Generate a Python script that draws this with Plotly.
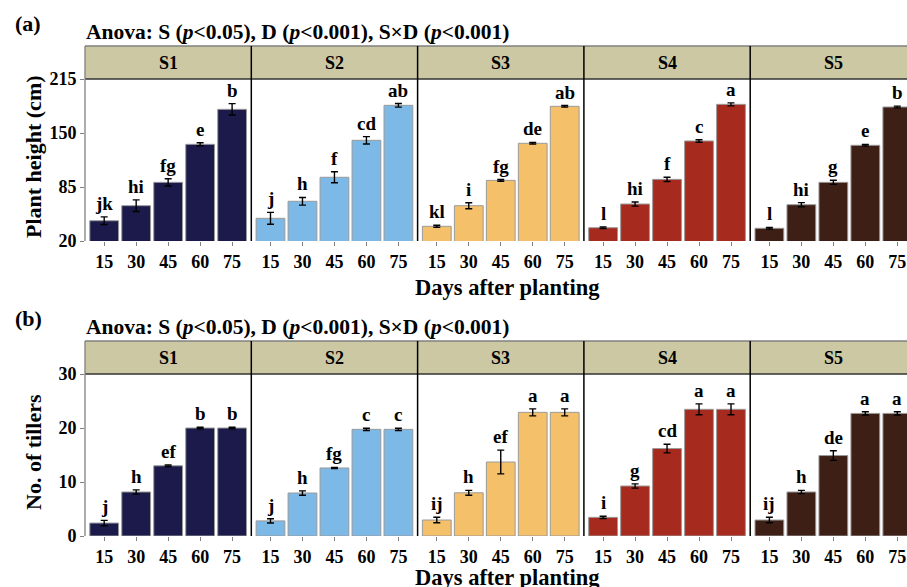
import plotly.graph_objects as go

# ---------------- data ----------------
days = ["15", "30", "45", "60", "75"]
treatments = ["S1", "S2", "S3", "S4", "S5"]
colors = ["#1B1A4A", "#7DB9E7", "#F4C06A", "#A72A1F", "#3D1F16"]

# Plant height (cm): means, standard errors, letters
height_S1 = [44.4, 62.5, 90.6, 136.4, 178.5]
height_S2 = [47.3, 67.8, 96.7, 141.2, 183.3]
height_S3 = [37.7, 62.5, 93.0, 137.6, 182.1]
height_S4 = [36.0, 64.5, 94.2, 140.4, 184.5]
height_S5 = [35.3, 63.7, 90.6, 135.2, 181.3]
height_se_S1 = [4.6, 7.0, 4.4, 1.8, 6.8]
height_se_S2 = [7.2, 4.6, 6.6, 4.4, 2.2]
height_se_S3 = [1.2, 3.6, 1.0, 1.0, 1.0]
height_se_S4 = [1.0, 2.5, 2.5, 1.5, 1.8]
height_se_S5 = [1.0, 2.5, 2.5, 1.0, 1.0]
height_lab_S1 = ["jk", "hi", "fg", "e", "b"]
height_lab_S2 = ["j", "h", "f", "cd", "ab"]
height_lab_S3 = ["kl", "i", "fg", "de", "ab"]
height_lab_S4 = ["l", "hi", "f", "c", "a"]
height_lab_S5 = ["l", "hi", "g", "e", "b"]

# Number of tillers
till_S1 = [2.4, 8.15, 13.0, 20.0, 20.0]
till_S2 = [2.8, 7.96, 12.6, 19.75, 19.75]
till_S3 = [2.96, 8.0, 13.7, 22.9, 22.9]
till_S4 = [3.45, 9.26, 16.2, 23.46, 23.46]
till_S5 = [2.96, 8.15, 14.9, 22.7, 22.7]
till_se_S1 = [0.5, 0.4, 0.15, 0.15, 0.15]
till_se_S2 = [0.4, 0.4, 0.1, 0.2, 0.2]
till_se_S3 = [0.5, 0.45, 2.2, 0.65, 0.65]
till_se_S4 = [0.2, 0.4, 0.8, 1.0, 1.0]
till_se_S5 = [0.5, 0.3, 0.9, 0.3, 0.3]
till_lab_S1 = ["j", "h", "ef", "b", "b"]
till_lab_S2 = ["j", "h", "fg", "c", "c"]
till_lab_S3 = ["ij", "h", "ef", "a", "a"]
till_lab_S4 = ["i", "g", "cd", "a", "a"]
till_lab_S5 = ["ij", "h", "de", "a", "a"]

height_ticks = [20, 85, 150, 215]
till_ticks = [0, 10, 20, 30]

rows = [
    dict(means=[height_S1, height_S2, height_S3, height_S4, height_S5],
         ses=[height_se_S1, height_se_S2, height_se_S3, height_se_S4, height_se_S5],
         labs=[height_lab_S1, height_lab_S2, height_lab_S3, height_lab_S4, height_lab_S5],
         yr=[20, 215], ticks=height_ticks, ytitle="Plant height (cm)",
         top=79, bottom=241, tag="(a)", xt=287),
    dict(means=[till_S1, till_S2, till_S3, till_S4, till_S5],
         ses=[till_se_S1, till_se_S2, till_se_S3, till_se_S4, till_se_S5],
         labs=[till_lab_S1, till_lab_S2, till_lab_S3, till_lab_S4, till_lab_S5],
         yr=[0, 30], ticks=till_ticks, ytitle="No. of tillers",
         top=374, bottom=536, tag="(b)", xt=577),
]

# ---------------- layout geometry (pixels) ----------------
W, H = 907, 587
X0 = 85.0
PW = 166.3
UNIT = PW / 5.2
STRIP = 33
FONT = "Liberation Serif"
GRAY = "#808080"

def px(x):
    return x / W

def py(y):
    return 1 - y / H

fig = go.Figure()
layout = dict(
    width=W, height=H, margin=dict(l=0, r=0, t=0, b=0, autoexpand=False),
    paper_bgcolor="white", plot_bgcolor="white", showlegend=False,
    font=dict(family=FONT, color="black"),
)
annotations = []
shapes = []

for r, row in enumerate(rows):
    for c in range(5):
        k = r * 5 + c + 1
        xa = "xaxis" if k == 1 else f"xaxis{k}"
        ya = "yaxis" if k == 1 else f"yaxis{k}"
        xref = "x" if k == 1 else f"x{k}"
        yref = "y" if k == 1 else f"y{k}"
        left = X0 + c * PW
        right = min(left + PW, W)
        xs = [1, 2, 3, 4, 5]
        fig.add_trace(go.Bar(
            x=xs, y=row["means"][c], width=0.9,
            marker=dict(color=colors[c], line=dict(color="#9A9A9A", width=1)),
            error_y=dict(type="data", array=row["ses"][c], color="black",
                         thickness=1.4, width=3.5),
            xaxis=xref, yaxis=yref, hoverinfo="skip",
        ))
        layout[xa] = dict(
            domain=[px(left), px(right)], range=[0.4, 0.4 + (right - left) / UNIT],
            anchor=yref, tickvals=xs, ticktext=days, ticks="outside", ticklen=4,
            tickcolor=GRAY, tickwidth=1, showline=False, showgrid=False,
            zeroline=False, tickfont=dict(family=FONT, size=18, weight="bold"),
            fixedrange=True, automargin=False,
        )
        layout[ya] = dict(
            domain=[py(row["bottom"]), py(row["top"])], range=row["yr"],
            anchor=xref, showgrid=False, zeroline=False, showline=False,
            tickvals=row["ticks"] if c == 0 else [],
            ticks="outside" if c == 0 else "", ticklen=4, tickcolor=GRAY,
            showticklabels=(c == 0),
            tickfont=dict(family=FONT, size=18, weight="bold"), fixedrange=True,
            automargin=False,
        )
        # letters
        for i in range(5):
            annotations.append(dict(
                x=xs[i], y=row["means"][c][i] + row["ses"][c][i],
                xref=xref, yref=yref, text=row["labs"][c][i], showarrow=False,
                yanchor="bottom", xanchor="center", yshift=1,
                font=dict(family=FONT, size=19, weight="bold"),
            ))
        # strip label
        annotations.append(dict(
            x=px(left + PW / 2), y=py(row["top"] - STRIP / 2), xref="paper", yref="paper",
            text=treatments[c], showarrow=False, xanchor="center", yanchor="middle",
            font=dict(family=FONT, size=18, weight="bold"),
        ))

    top, bottom = row["top"], row["bottom"]
    st = top - STRIP
    # strip background
    shapes.append(dict(type="rect", xref="paper", yref="paper",
                       x0=px(X0), x1=1, y0=py(top), y1=py(st),
                       fillcolor="#CCC8A4", line=dict(width=0), layer="below"))
    shapes.append(dict(type="line", xref="paper", yref="paper",
                       x0=px(X0), x1=1, y0=py(st), y1=py(st),
                       line=dict(color=GRAY, width=1.5)))
    shapes.append(dict(type="line", xref="paper", yref="paper",
                       x0=px(X0), x1=1, y0=py(top), y1=py(top),
                       line=dict(color="#333333", width=1.5)))
    # left edge
    shapes.append(dict(type="line", xref="paper", yref="paper",
                       x0=px(X0), x1=px(X0), y0=py(bottom), y1=py(st),
                       line=dict(color=GRAY, width=1.3)))
    # dividers
    for c in range(1, 5):
        xx = X0 + c * PW
        shapes.append(dict(type="line", xref="paper", yref="paper",
                           x0=px(xx), x1=px(xx), y0=py(bottom), y1=py(st),
                           line=dict(color="black", width=1.5)))

    # texts
    annotations.append(dict(x=px(13), y=py(st - 23), xref="paper", yref="paper",
                            text=row["tag"], showarrow=False, xanchor="left", yanchor="middle",
                            font=dict(family=FONT, size=22, weight="bold")))
    annotations.append(dict(x=px(84), y=py(st - 14), xref="paper", yref="paper",
                            text="Anova: S (<i>p</i>&lt;0.05), D (<i>p</i>&lt;0.001), S×D (<i>p</i>&lt;0.001)",
                            showarrow=False, xanchor="left", yanchor="middle",
                            font=dict(family=FONT, size=21.5, weight="bold")))
    annotations.append(dict(x=px(508), y=py(row["xt"]), xref="paper", yref="paper",
                            text="Days after planting", showarrow=False,
                            xanchor="center", yanchor="middle",
                            font=dict(family=FONT, size=22.5, weight="bold")))
    annotations.append(dict(x=px(33), y=py((top + bottom) / 2 - 3), xref="paper", yref="paper",
                            text=row["ytitle"], showarrow=False, textangle=-90,
                            xanchor="center", yanchor="middle",
                            font=dict(family=FONT, size=22, weight="bold")))

layout["annotations"] = annotations
layout["shapes"] = shapes
fig.update_layout(**layout)

pin_js = (
    "document.documentElement.style.margin='0px';"
    "document.documentElement.style.overflow='hidden';"
    "document.body.style.margin='0px';"
    "document.body.style.padding='0px';"
    "document.body.style.overflow='hidden';"
    "var g=document.querySelector('.plotly-graph-div');"
    "if(g){g.style.position='fixed';g.style.top='0px';g.style.left='0px';}"
)
fig.write_html(
    "out.html",
    config={"displayModeBar": False},
    post_script=pin_js,
)
